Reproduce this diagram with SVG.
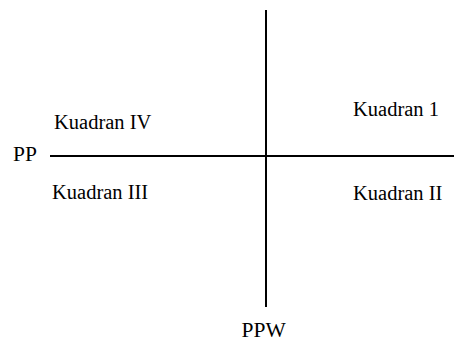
<svg xmlns="http://www.w3.org/2000/svg" width="454" height="341" viewBox="0 0 454 341">
<style>
text{font-family:"Liberation Serif","Times New Roman","DejaVu Serif",serif;fill:#000}
.s{font-size:20.5px}
.l{font-size:21.5px}
.ax{stroke:#000;stroke-width:2;fill:none}
</style>
<rect width="454" height="341" fill="#fff"/>
<g id="connectors">
<line class="ax" x1="266" y1="10" x2="266" y2="307"/>
<line class="ax" x1="50" y1="156" x2="454" y2="156"/>
</g>
<g id="pp"><text class="l" x="13" y="161" font-family="Liberation Serif, serif">PP</text></g>
<g id="ppw"><text class="l" x="241.5" y="336.5" font-family="Liberation Serif, serif">PPW</text></g>
<g id="k4"><text class="s" x="54" y="129" font-family="Liberation Serif, serif">Kuadran IV</text></g>
<g id="k3"><text class="s" x="52" y="199" font-family="Liberation Serif, serif">Kuadran III</text></g>
<g id="k1"><text class="s" x="353" y="116" font-family="Liberation Serif, serif">Kuadran 1</text></g>
<g id="k2"><text class="s" x="353" y="200" font-family="Liberation Serif, serif">Kuadran II</text></g>
</svg>
